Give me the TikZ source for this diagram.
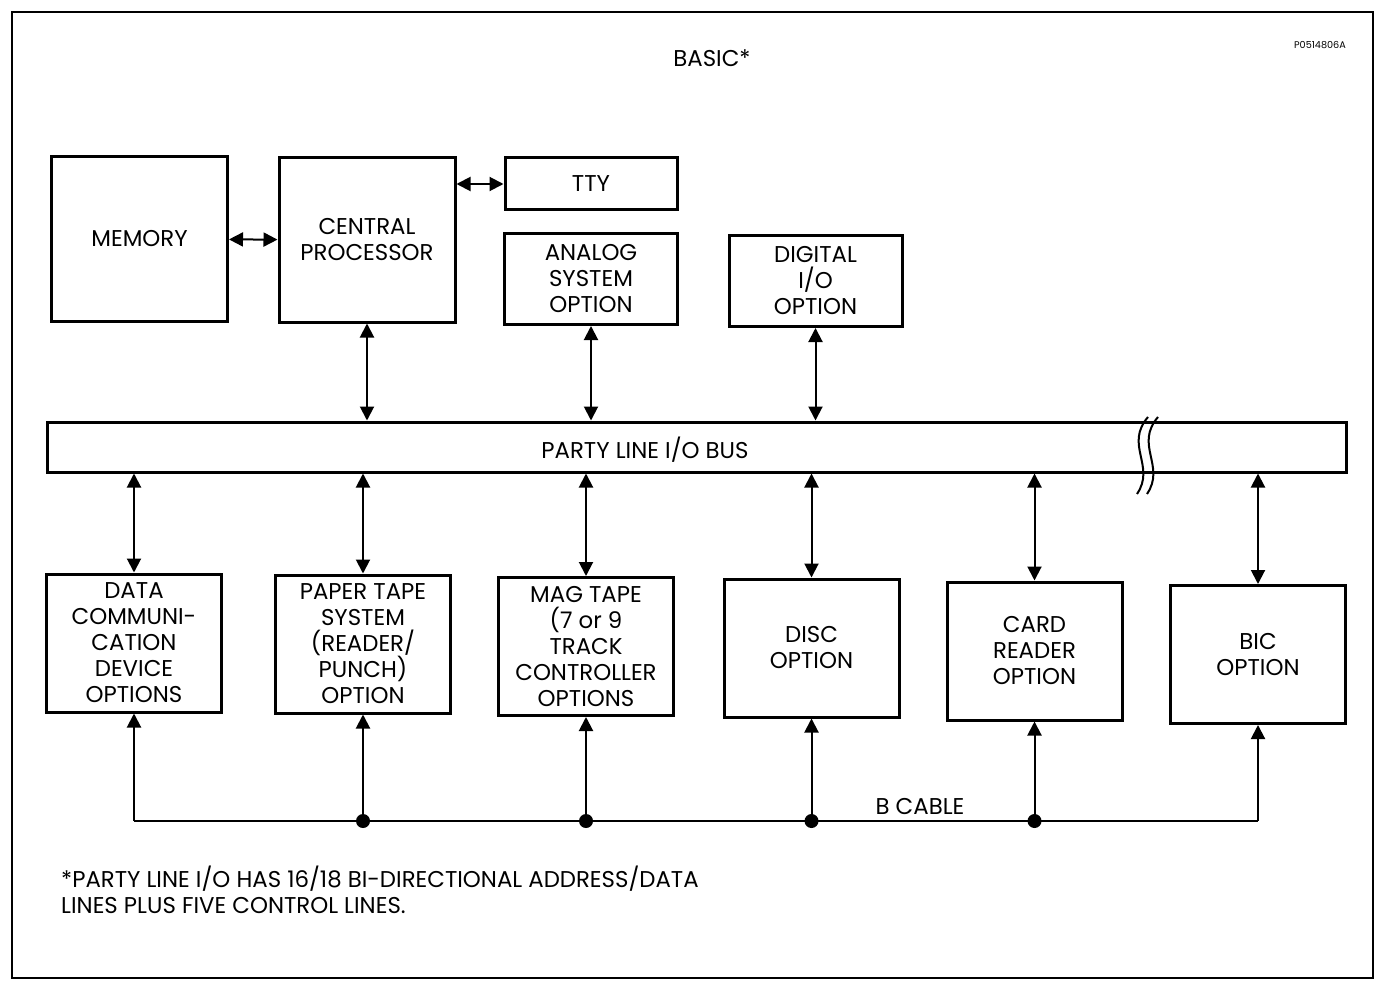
\documentclass[tikz,border=0pt]{standalone}
\usepackage{fontspec}
\setmainfont{Poppins}
\usetikzlibrary{arrows.meta}

\begin{document}
\begin{tikzpicture}[
  x=0.2mm, y=-0.2mm,
  blk/.style={draw, line width=0.6mm, align=center, inner sep=1pt,
    font=\fontsize{13}{14.8}\selectfont},
  sq/.style={blk, minimum width=35.2mm, minimum height=32.8mm},
  opt/.style={blk, minimum width=35mm, minimum height=27.6mm},
  io/.style={blk, minimum width=34.6mm, minimum height=18.2mm},
  e/.style={{Triangle[length=2.8mm,width=2.8mm]}-{Triangle[length=2.8mm,width=2.8mm]}, line width=0.4mm},
  up/.style={-{Triangle[length=2.8mm,width=2.8mm]}, line width=0.4mm},
  lbl/.style={font=\fontsize{13}{14.8}\selectfont}
]
\useasboundingbox (0,0) rectangle (1380,996);
\draw[line width=0.55mm] (12,12) rectangle (1373,978);

\node[lbl] (title) at (712,58) {BASIC*};
\node[font=\fontsize{5.5}{6}\selectfont] (code) at (1320,45) {P0514806A};

% processor side
\node[sq] (mem) at (139.5,239) {MEMORY};
\node[sq] (cp) at (367,240) {CENTRAL\\PROCESSOR};
\node[blk, minimum width=34.4mm, minimum height=10.4mm] (tty) at (591,184) {TTY};
\node[io] (ana) at (591,279) {ANALOG\\SYSTEM\\OPTION};
\node[io] (dig) at (815.5,281) {DIGITAL\\I/O\\OPTION};

% bus
\node[blk, minimum width=259.6mm, minimum height=10mm] (bus) at (697,447) {};
\node[lbl] (buslbl) at (645,450) {PARTY LINE I/O BUS};
\fill[white] (1137,425) rectangle (1155,470);
\draw[line width=0.4mm] (1148,417) .. controls (1124,445) and (1156,466) .. (1137,494);
\draw[line width=0.4mm] (1158,417) .. controls (1134,445) and (1166,466) .. (1147,494);

% options
\node[opt] (dc) at (134,643) {DATA\\COMMUNI-\\CATION\\DEVICE\\OPTIONS};
\node[opt] (pt) at (363,644) {PAPER TAPE\\SYSTEM\\(READER/\\PUNCH)\\OPTION};
\node[opt] (mt) at (586,646.5) {MAG TAPE\\(7 or 9\\TRACK\\CONTROLLER\\OPTIONS};
\node[opt] (disc) at (811.5,648) {DISC\\OPTION};
\node[opt] (card) at (1034.5,651) {CARD\\READER\\OPTION};
\node[opt] (bic) at (1258,654.5) {BIC\\OPTION};

\draw[e] (mem) -- (cp);
\draw[e] (cp.east |- tty) -- (tty);
\foreach \n in {cp,ana,dig}
  \draw[e] (\n.south) -- (\n.south |- bus.north);
\foreach \n in {dc,pt,mt,disc,card,bic}
  \draw[e] (\n.north |- bus.south) -- (\n.north);

% B cable
\coordinate (bl) at (134,821);
\coordinate (br) at (1258,821);
\draw[line width=0.4mm] (dc.south |- bl) -- (bic.south |- br);
\foreach \n in {dc,pt,mt,disc,card,bic}
  \draw[up] (\n.south |- bl) -- (\n.south);
\foreach \n in {pt,mt,disc,card}
  \fill (\n.south |- bl) circle (1.4mm);
\node[lbl] (bcab) at (920,806) {B CABLE};

\node[lbl, anchor=north west, align=left] (note) at (55,860)
  {*PARTY LINE I/O HAS 16/18 BI-DIRECTIONAL ADDRESS/DATA\\LINES PLUS FIVE CONTROL LINES.};
\end{tikzpicture}
\end{document}
